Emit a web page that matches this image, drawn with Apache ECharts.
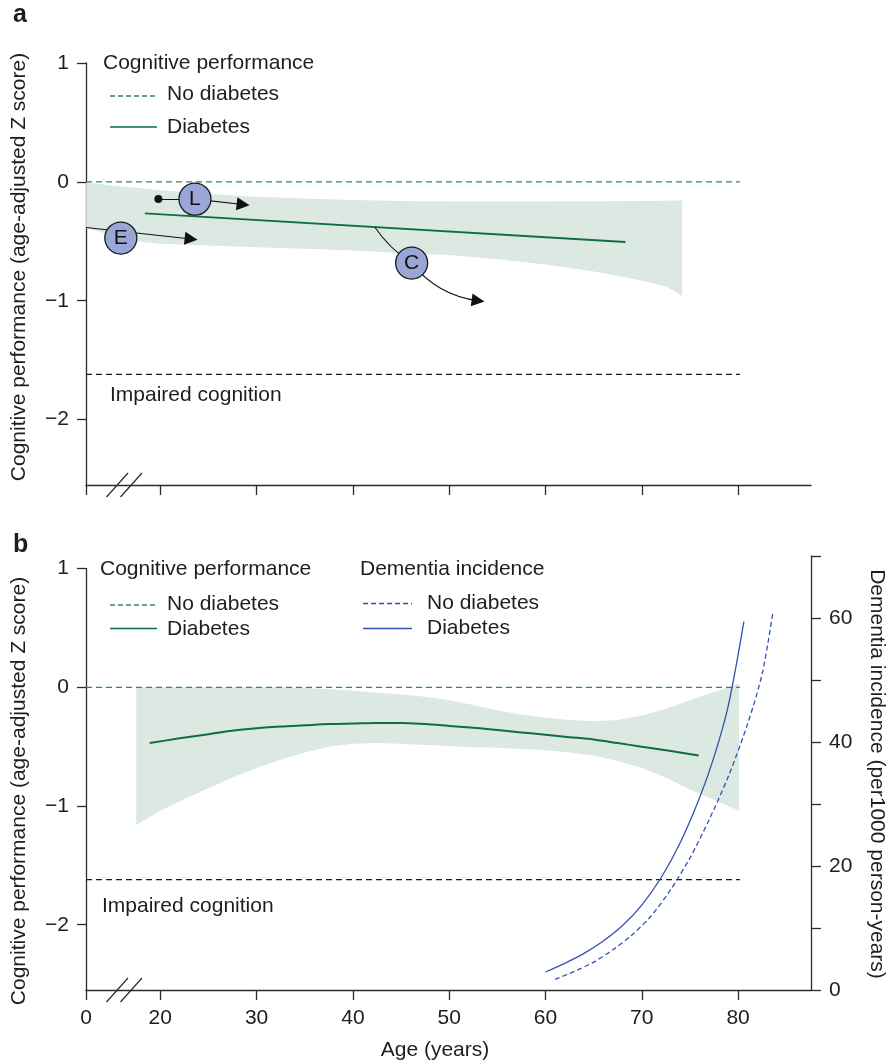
<!DOCTYPE html>
<html>
<head>
<meta charset="utf-8">
<script src="https://cdn.jsdelivr.net/npm/echarts@6/dist/echarts.min.js"></script>
<style>
html,body{margin:0;padding:0;background:#fff;}
#chart{width:890px;height:1064px;}
</style>
</head>
<body>
<div id="chart"></div>
<script>
// ---------- data ----------
const xTickValues = [12.285, 20, 30, 40, 50, 60, 70, 80];
const zTickValues = [-2, -1, 0, 1];
const refAges = [12.285, 80.2];
const noDiabetesZ = [0, 0];
const impairedZ = [-1.62, -1.62];

// Panel a
const bandAges_a = [12.3, 15, 17.5, 20, 25, 30, 35, 40, 45, 50, 55, 60, 65, 70, 72.5, 74.2];
const bandUpper_a = [-0.005, -0.03, -0.05, -0.07, -0.1, -0.125, -0.14, -0.152, -0.16, -0.165, -0.165, -0.165, -0.163, -0.16, -0.158, -0.155];
const bandLower_a = [-0.39, -0.45, -0.5, -0.52, -0.535, -0.55, -0.563, -0.578, -0.598, -0.615, -0.65, -0.695, -0.755, -0.83, -0.88, -0.96];
const diabAges_a = [18.4, 68.3];
const diabZ_a = [-0.265, -0.505];

// Panel a annotations (study designs)
const annotLetters = ['L', 'E', 'C'];
const annotAges = [23.6, 15.9, 46.1];
const annotZ = [-0.145, -0.473, -0.683];
const annotDot = [19.8, -0.145];
const annotPlainSegs = [
  [[19.8, -0.145], [23.6, -0.145], 0],
  [[42.3, -0.384], [46.1, -0.683], -0.1]
];
const annotArrowSegs = [
  [[23.6, -0.145], [28.6, -0.19], 0],
  [[12.3, -0.384], [23.2, -0.48], 0],
  [[46.1, -0.683], [53.0, -1.0], -0.2]
];

// Panel b
const bandAges_b = [17.5, 20, 22.5, 25, 27.5, 30, 32.5, 35, 37.5, 40, 42.5, 45, 47.5, 50, 52.5, 55, 57.5, 60, 62.5, 65, 67.5, 70, 72.5, 75, 77.5, 80.1];
const bandUpper_b = [0, 0, 0, 0, 0, 0, 0, -0.005, -0.015, -0.03, -0.045, -0.06, -0.08, -0.11, -0.15, -0.195, -0.23, -0.255, -0.275, -0.285, -0.275, -0.24, -0.18, -0.11, -0.04, 0.03];
const bandLower_b = [-1.16, -1.04, -0.94, -0.85, -0.76, -0.68, -0.61, -0.55, -0.5, -0.475, -0.47, -0.475, -0.485, -0.495, -0.505, -0.51, -0.52, -0.53, -0.55, -0.575, -0.62, -0.68, -0.76, -0.86, -0.95, -1.04];
const diabAges_b = [18.9, 22, 25, 27, 30, 32.5, 35, 37.5, 40, 42.5, 45, 47.5, 50, 52.5, 55, 57.5, 60, 62.5, 65, 67.5, 70, 72.5, 75.9];
const diabZ_b = [-0.47, -0.43, -0.395, -0.37, -0.345, -0.33, -0.32, -0.31, -0.305, -0.3, -0.3, -0.31, -0.325, -0.34, -0.36, -0.38, -0.4, -0.42, -0.44, -0.47, -0.5, -0.53, -0.575];

// Dementia incidence (per 1000 person-years)
const demDiabAges = [60.0, 62, 64, 66, 68, 70, 72, 74, 76, 77.5, 79, 80.6];
const demDiabRate = [2.9, 4.3, 5.9, 7.9, 10.4, 13.7, 18.1, 23.8, 31, 37.6, 46, 59.4];
const demNoDiabAges = [61.0, 63, 65, 67, 69, 71, 73, 75, 77, 79, 81, 82.5, 83.6];
const demNoDiabRate = [1.7, 3.0, 4.5, 6.5, 8.9, 12.0, 16.2, 21.3, 27.5, 34.5, 43, 51, 60.8];

// ---------- style ----------
const FONT = '"Liberation Sans", Arial, Helvetica, sans-serif';
const TXT = '#1e1e1e';
const AXIS = '#2b2b2b';
const GREEN = '#0a7040';
const GREEN_D = '#2f8a5c';
const BAND = '#dce9e2';
const BLUE = '#3451b2';
const BLACK_D = '#1a1a1a';

const XMIN = 12.285, XMAX = 87.57;
const L = 86, W = 725;

const pairs = (xs, ys) => xs.map((x, i) => [x, ys[i]]);

function bandSeries(xs, up, lo, xi, yi) {
  return {
    type: 'custom', xAxisIndex: xi, yAxisIndex: yi, silent: true, z: 1,
    data: xs.map((x, i) => [x, up[i], lo[i]]),
    encode: { x: 0, y: [1, 2] },
    renderItem: function (params, api) {
      if (params.dataIndex !== 0) return null;
      const top = [], bot = [];
      for (let i = 0; i < xs.length; i++) top.push(api.coord([xs[i], up[i]]));
      for (let i = xs.length - 1; i >= 0; i--) bot.push(api.coord([xs[i], lo[i]]));
      return { type: 'polygon', shape: { points: top.concat(bot) }, style: { fill: BAND } };
    }
  };
}
function lineSeries(xs, ys, xi, yi, color, width, dashed, smooth, z) {
  return {
    type: 'line', xAxisIndex: xi, yAxisIndex: yi, data: pairs(xs, ys),
    symbol: 'none', smooth: smooth ? 0.3 : false,
    silent: true, z: z || 3,
    lineStyle: { color: color, width: width, type: dashed || 'solid' }
  };
}

const axisLineStyle = { color: AXIS, width: 1.3 };
function xAxis(grid, showLabels, show) {
  return {
    type: 'value', gridIndex: grid, min: XMIN, max: XMAX, show: show,
    axisLine: { show: true, onZero: false, lineStyle: axisLineStyle },
    axisTick: { show: true, customValues: xTickValues, length: 10, lineStyle: axisLineStyle },
    axisLabel: {
      show: showLabels, customValues: xTickValues, margin: 18,
      fontSize: 21, fontFamily: FONT, color: TXT,
      formatter: v => (v < 15 ? '0' : String(Math.round(v)))
    },
    splitLine: { show: false }
  };
}
function zAxis(grid) {
  return {
    type: 'value', gridIndex: grid, min: -2.55, max: 1, position: 'left',
    axisLine: { show: true, onZero: false, lineStyle: axisLineStyle },
    axisTick: { show: true, customValues: zTickValues, length: 9, lineStyle: axisLineStyle },
    axisLabel: {
      customValues: zTickValues, margin: 17, fontSize: 21, fontFamily: FONT, color: TXT,
      formatter: v => (v < 0 ? '\u2212' + Math.abs(v) : String(v))
    },
    splitLine: { show: false }
  };
}

function txt(text, x, y, opts) {
  opts = opts || {};
  return {
    type: 'text', x: x, y: y, rotation: opts.rotation || 0, silent: true, z: 50,
    style: {
      text: text, fill: TXT,
      font: (opts.weight || 'normal') + ' ' + (opts.size || 21) + 'px ' + FONT,
      align: opts.align || 'left', verticalAlign: 'middle'
    }
  };
}
function seg(x1, y1, x2, y2, color, width, dash) {
  return {
    type: 'line', silent: true, z: 50,
    shape: { x1: x1, y1: y1, x2: x2, y2: y2 },
    style: { stroke: color, lineWidth: width, lineDash: dash || null }
  };
}

const graphics = [
  txt('a', 13, 15, { weight: 'bold', size: 25 }),
  txt('b', 13, 545, { weight: 'bold', size: 25 }),
  // panel a legend
  txt('Cognitive performance', 103, 63),
  seg(110, 96, 157, 96, GREEN_D, 1.3, [5, 3]),
  txt('No diabetes', 167, 94),
  seg(110, 127, 157, 127, GREEN, 1.5),
  txt('Diabetes', 167, 127),
  txt('Impaired cognition', 110, 395),
  // panel b legends
  txt('Cognitive performance', 100, 569),
  seg(110, 605, 157, 605, GREEN_D, 1.3, [5, 3]),
  txt('No diabetes', 167, 604),
  seg(110, 628.5, 157, 628.5, GREEN, 1.5),
  txt('Diabetes', 167, 629),
  txt('Dementia incidence', 360, 569),
  seg(363, 603.5, 412, 603.5, BLUE, 1.3, [5, 3]),
  txt('No diabetes', 427, 603.5),
  seg(363, 628.5, 412, 628.5, BLUE, 1.3),
  txt('Diabetes', 427, 628.5),
  txt('Impaired cognition', 102, 906),
  // axis titles
  txt('Cognitive performance (age-adjusted Z score)', 19, 267, { align: 'center', rotation: Math.PI / 2 }),
  txt('Cognitive performance (age-adjusted Z score)', 19, 791, { align: 'center', rotation: Math.PI / 2 }),
  txt('Dementia incidence (per1000 person-years)', 877, 774, { align: 'center', rotation: -Math.PI / 2 }),
  txt('Age (years)', 435, 1050, { align: 'center' }),
  // axis break marks
  seg(106.5, 497, 128, 473, AXIS, 1.2), seg(120.5, 497, 142, 473, AXIS, 1.2),
  seg(106.5, 1002, 128, 978, AXIS, 1.2), seg(120.5, 1002, 142, 978, AXIS, 1.2)
];

const option = {
  animation: false,
  backgroundColor: '#fff',
  textStyle: { fontFamily: FONT },
  grid: [
    { left: L, width: W, top: 63, height: 422 },
    { left: L, width: W, top: 568.6, height: 421.4 },
    { left: L, width: W, top: 556, height: 434 }
  ],
  xAxis: [xAxis(0, false, true), xAxis(1, true, true), xAxis(2, false, false)],
  yAxis: [
    zAxis(0), zAxis(1),
    {
      type: 'value', gridIndex: 2, min: 0, max: 70, interval: 10, position: 'right',
      axisLine: { show: true, onZero: false, lineStyle: axisLineStyle },
      axisTick: { show: true, length: 10, lineStyle: axisLineStyle },
      axisLabel: {
        margin: 18, fontSize: 21, fontFamily: FONT, color: TXT,
        formatter: v => (v % 20 === 0 && v <= 60 ? String(v) : '')
      },
      splitLine: { show: false }
    }
  ],
  graphic: graphics,
  series: [
    bandSeries(bandAges_a, bandUpper_a, bandLower_a, 0, 0),
    lineSeries(refAges, noDiabetesZ, 0, 0, GREEN_D, 1.3, [6, 4]),
    lineSeries(refAges, impairedZ, 0, 0, BLACK_D, 1.3, [6, 4]),
    lineSeries(diabAges_a, diabZ_a, 0, 0, GREEN, 2),
    {
      type: 'lines', coordinateSystem: 'cartesian2d', xAxisIndex: 0, yAxisIndex: 0, z: 5, silent: true,
      symbol: ['none', 'none'],
      lineStyle: { color: '#111', width: 1.1, opacity: 1 },
      data: annotPlainSegs.map(s => ({ coords: [s[0], s[1]], lineStyle: { curveness: s[2] } }))
    },
    {
      type: 'lines', coordinateSystem: 'cartesian2d', xAxisIndex: 0, yAxisIndex: 0, z: 5, silent: true,
      symbol: ['none', 'triangle'], symbolSize: 13,
      lineStyle: { color: '#111', width: 1.1, opacity: 1 },
      data: annotArrowSegs.map(s => ({ coords: [s[0], s[1]], lineStyle: { curveness: s[2] } }))
    },
    {
      type: 'scatter', xAxisIndex: 0, yAxisIndex: 0, z: 6, silent: true,
      symbol: 'circle', symbolSize: 8, itemStyle: { color: '#111', opacity: 1 },
      data: [annotDot]
    },
    {
      type: 'scatter', xAxisIndex: 0, yAxisIndex: 0, z: 7, silent: true,
      symbol: 'circle', symbolSize: 32,
      itemStyle: { color: '#9aa6d6', borderColor: '#1a1a1a', borderWidth: 1.3, opacity: 1 },
      label: { show: true, position: 'inside', formatter: p => p.value[2], fontSize: 21, fontFamily: FONT, color: '#111' },
      data: annotAges.map((a, i) => [a, annotZ[i], annotLetters[i]])
    },
    bandSeries(bandAges_b, bandUpper_b, bandLower_b, 1, 1),
    lineSeries(refAges, noDiabetesZ, 1, 1, GREEN_D, 1.3, [6, 4]),
    lineSeries(refAges, impairedZ, 1, 1, BLACK_D, 1.3, [6, 4]),
    lineSeries(diabAges_b, diabZ_b, 1, 1, GREEN, 2, null, true),
    lineSeries(demNoDiabAges, demNoDiabRate, 2, 2, BLUE, 1.3, [5, 3], true, 4),
    lineSeries(demDiabAges, demDiabRate, 2, 2, BLUE, 1.3, null, true, 4)
  ]
};

const chart = echarts.init(document.getElementById('chart'), null, { renderer: 'canvas' });
chart.setOption(option);
</script>
</body>
</html>
